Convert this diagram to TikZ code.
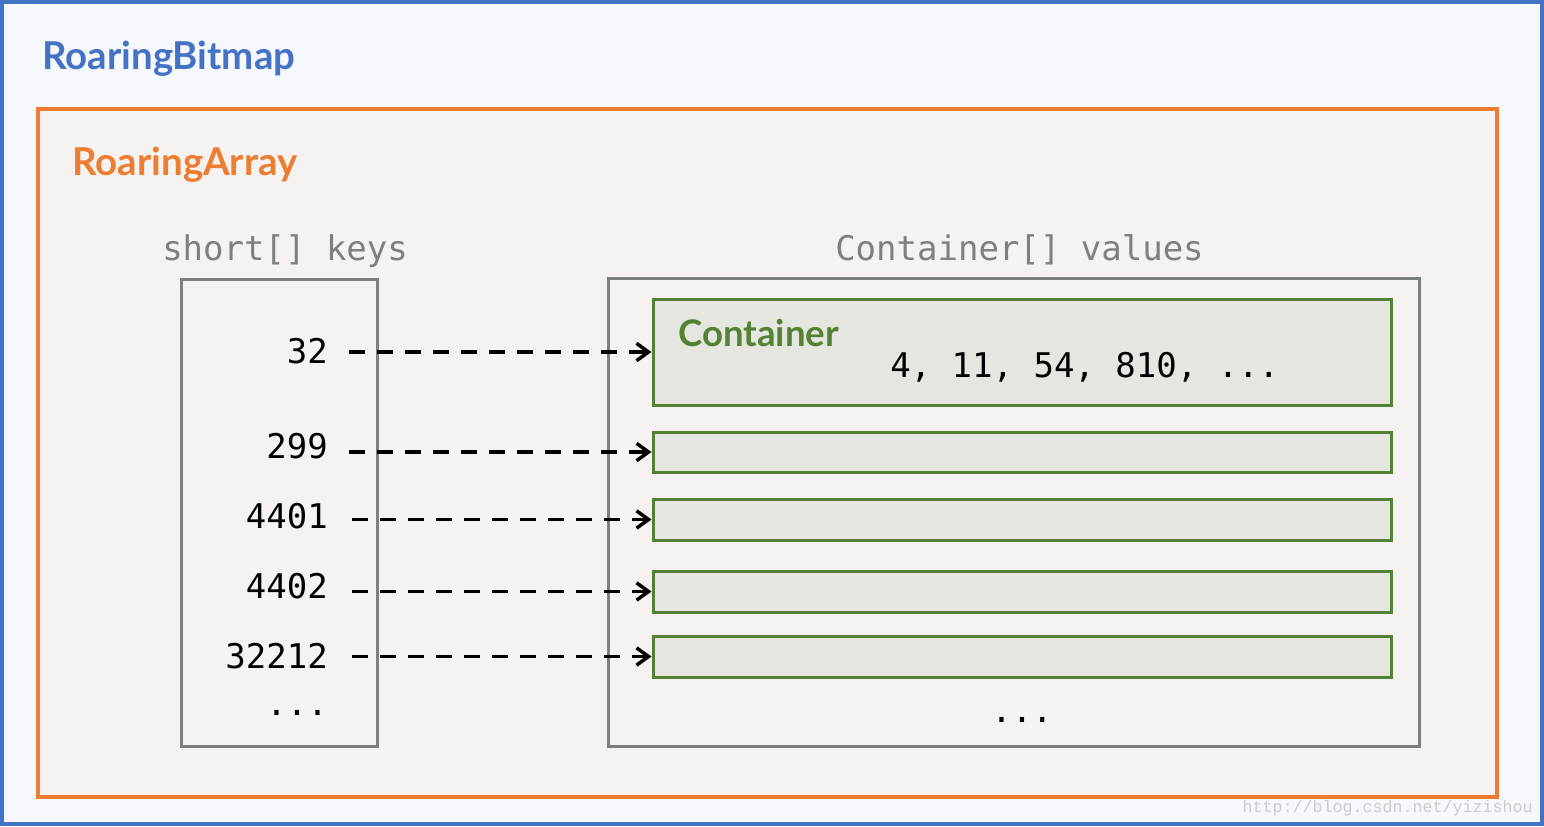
\documentclass[tikz,border=0pt]{standalone}
\usepackage{fontspec}
\usetikzlibrary{arrows.meta,fit,calc}
\newfontfamily\labelfont{Lato}
\newfontfamily\codefont{DejaVu Sans Mono}
\newfontfamily\markfont{Liberation Mono}
\definecolor{bitmapblue}{HTML}{4472C4}
\definecolor{bitmapfill}{HTML}{F5F8FC}
\definecolor{arrayorange}{HTML}{ED7D31}
\definecolor{arrayfill}{HTML}{F5F2F1}
\definecolor{listgray}{HTML}{7F7F7F}
\definecolor{contgreen}{HTML}{548235}
\definecolor{contfill}{HTML}{E5E6DF}
\begin{document}
\begin{tikzpicture}[x=0.75pt, y=-0.75pt, >={Straight Barb[length=9pt,width=13pt]},
  title/.style={font=\labelfont\bfseries\fontsize{28.8}{34}\selectfont, inner sep=0pt, anchor=base west},
  listlabel/.style={font=\codefont\fontsize{25.5}{30}\selectfont, text=listgray, inner sep=0pt, anchor=base west},
  listbox/.style={draw=listgray, line width=2.25pt, inner sep=0pt},
  contbox/.style={draw=contgreen, fill=contfill, line width=2.25pt, inner sep=0pt},
  keytext/.style={font=\codefont\fontsize{25.5}{30}\selectfont, inner sep=0pt, anchor=base east},
  keyarrow/.style={->, line width=2.6pt, dash pattern=on 12pt off 9pt}]
\useasboundingbox (0,0) rectangle (1544,826);
% RoaringBitmap and RoaringArray
\node[fit={(2,2) (1542,824)}, draw=bitmapblue, fill=bitmapfill, line width=3pt, inner sep=0pt] (bitmap) {};
\node[title, text=bitmapblue] (bitmaptitle) at (42,69) {RoaringBitmap};
\node[fit={(38,109) (1497,797)}, draw=arrayorange, fill=arrayfill, line width=2.6pt, inner sep=0pt] (array) {};
\node[title, text=arrayorange] (arraytitle) at (72,175) {RoaringArray};
% keys and values
\node[listlabel] (keyslabel) at (162,260) {short[] keys};
\node[listbox, fit={(181,279) (377,746)}] (keys) {};
\node[listlabel] (valueslabel) at (835,260) {Container[] values};
\node[listbox, fit={(608,278) (1419,746)}] (values) {};
% containers
\node[contbox, fit={(653,299) (1391,405)}] (c1) {};
\node[contbox, fit={(653,432) (1391,472)}] (c2) {};
\node[contbox, fit={(653,499) (1391,540)}] (c3) {};
\node[contbox, fit={(653,571) (1391,612)}] (c4) {};
\node[contbox, fit={(653,636) (1391,677)}] (c5) {};
\node[font=\labelfont\bfseries\fontsize{27.5}{32}\selectfont, text=contgreen, inner sep=0pt, anchor=base west] (c1name) at (678,346) {Container};
\node[keytext, anchor=base west] (c1values) at (890,377) {4, 11, 54, 810, ...};
\node[keytext, anchor=base] (cmore) at (1022,722) {...};
% keys
\node[keytext] (k1) at (328,363) {32};
\node[keytext] (k2) at (328,458) {299};
\node[keytext] (k3) at (328,528) {4401};
\node[keytext] (k4) at (328,598) {4402};
\node[keytext] (k5) at (328,668) {32212};
\node[keytext] (kmore) at (328,715) {...};
\draw[keyarrow] ($(k1.east |- c1.west)+(21,0)$) -- (c1.west);
\draw[keyarrow] ($(k2.east |- c2.west)+(21,0)$) -- (c2.west);
\draw[keyarrow] ($(k3.east |- c3.west)+(24,0)$) -- (c3.west);
\draw[keyarrow] ($(k4.east |- c4.west)+(24,0)$) -- (c4.west);
\draw[keyarrow] ($(k5.east |- c5.west)+(24,0)$) -- (c5.west);
\node[font=\markfont\fontsize{12.5}{14}\selectfont, text=black!20, inner sep=0pt, anchor=base east] (mark) at (1533,812) {http://blog.csdn.net/yizishou};
\end{tikzpicture}
\end{document}
